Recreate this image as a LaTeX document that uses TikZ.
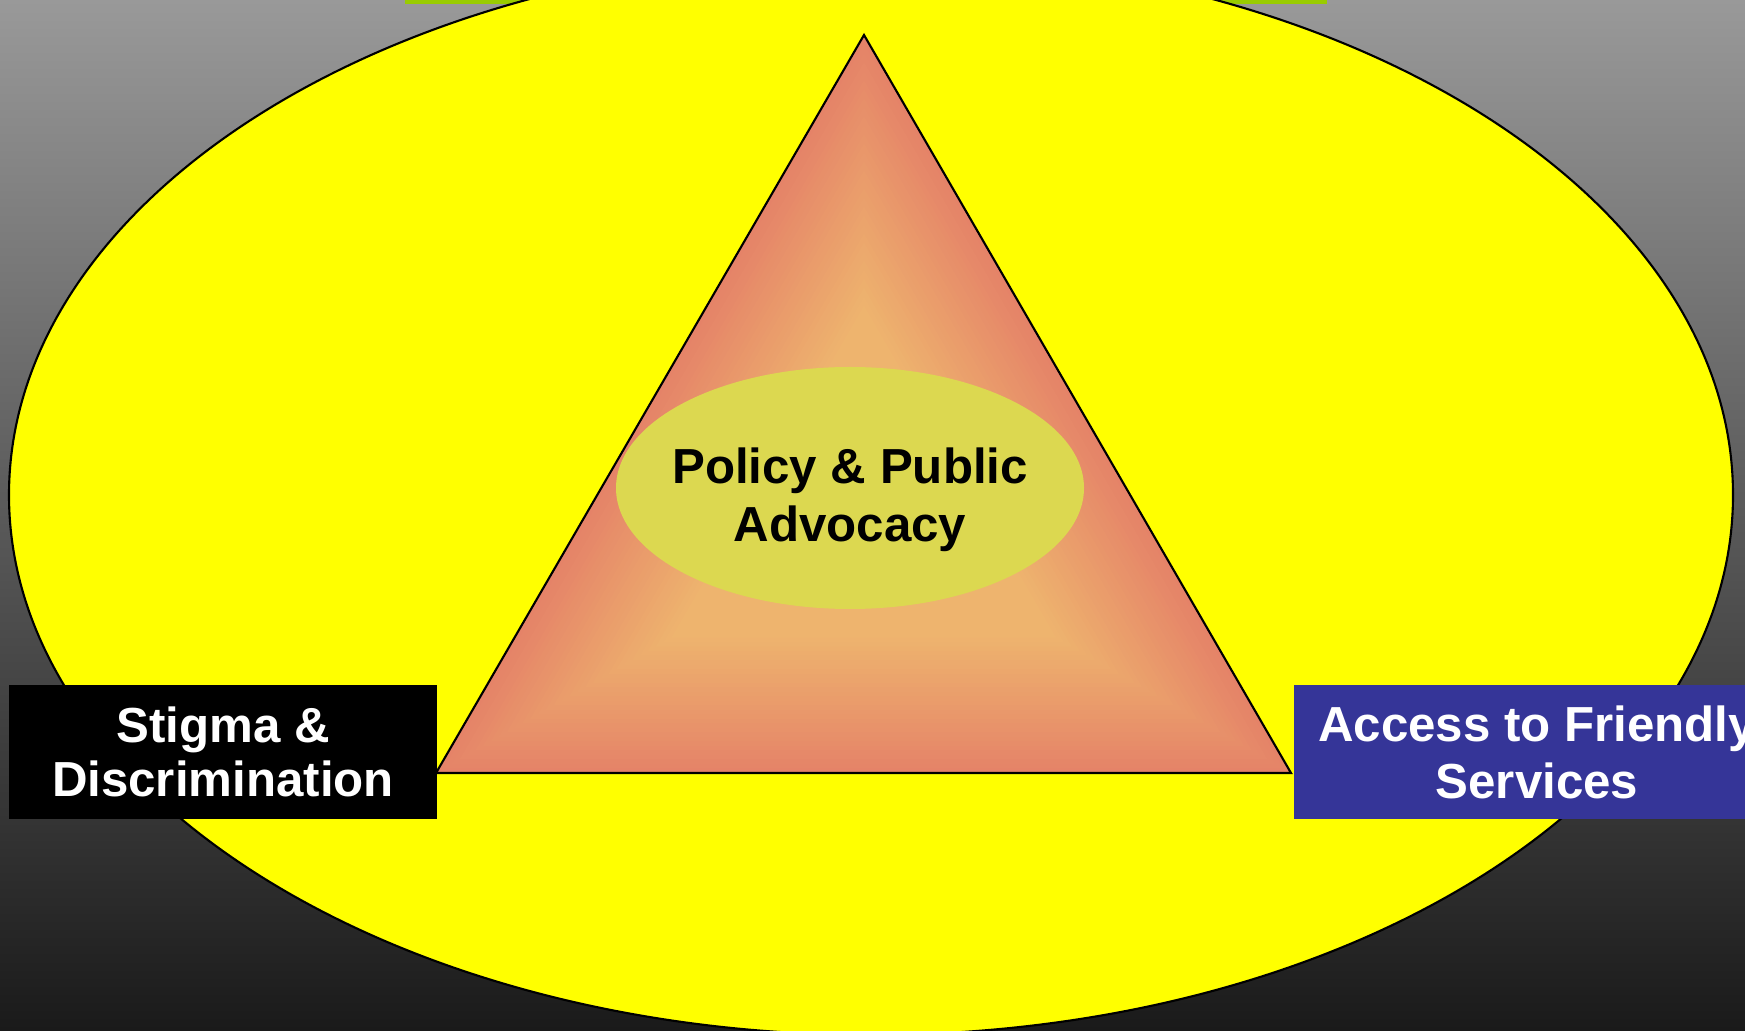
\documentclass[tikz,border=0pt]{standalone}
\usepackage{fontspec}
\setmainfont{Liberation Sans}
\usetikzlibrary{calc}
\definecolor{bgtop}{RGB}{153,153,153}
\definecolor{bgbottom}{RGB}{26,26,26}
\definecolor{topbar}{RGB}{153,204,0}
\definecolor{bigyellow}{RGB}{255,255,0}
\definecolor{triedge}{RGB}{229,131,104}
\definecolor{trimid}{RGB}{238,180,110}
\definecolor{coreyellow}{RGB}{220,216,80}
\definecolor{servblue}{RGB}{53,53,152}
\tikzset{
  labelbox/.style={inner sep=0pt, minimum height=1.34cm, align=center, text=white},
  labelfont/.style={font=\bfseries\fontsize{14}{#1}\selectfont},
}
\begin{document}
\begin{tikzpicture}[x=0.01cm,y=-0.01cm]
\useasboundingbox (0,0) rectangle (1745,1031);
\clip (0,0) rectangle (1745,1031);
\shade[top color=bgtop, bottom color=bgbottom] (0,0) rectangle (1745,1031);
\fill[topbar] (405,0) rectangle (1327,4);
\draw[fill=bigyellow, line width=0.6pt] (871,495) ellipse [x radius=862, y radius=540];

% triangle with a fill that gets lighter towards its centre
\coordinate (apex) at (864,35);
\coordinate (bl) at (436,773);
\coordinate (br) at (1291,773);
\coordinate (mid) at (864,527);
\foreach \k in {0,...,30} {
  \pgfmathsetmacro\f{1-\k/30*0.55}
  \pgfmathsetmacro\p{\k/30*100}
  \fill[trimid!\p!triedge] ($(mid)!\f!(apex)$) -- ($(mid)!\f!(bl)$) -- ($(mid)!\f!(br)$) -- cycle;
}
\draw[line width=0.6pt] (apex) -- (bl) -- (br) -- cycle;

\fill[coreyellow] (850,488) ellipse [x radius=234, y radius=121];
\node[align=center, inner sep=0pt, labelfont=16.5] (policy) at (850,500) {Policy \& Public\\Advocacy};

\node[labelbox, labelfont=15.4, fill=black, minimum width=4.28cm] (stigma) at (223,752) {Stigma \&\\Discrimination};
\node[labelbox, labelfont=16.2, fill=servblue, minimum width=4.86cm] (access) at (1537,752) {Access to Friendly\\Services};
\end{tikzpicture}
\end{document}
